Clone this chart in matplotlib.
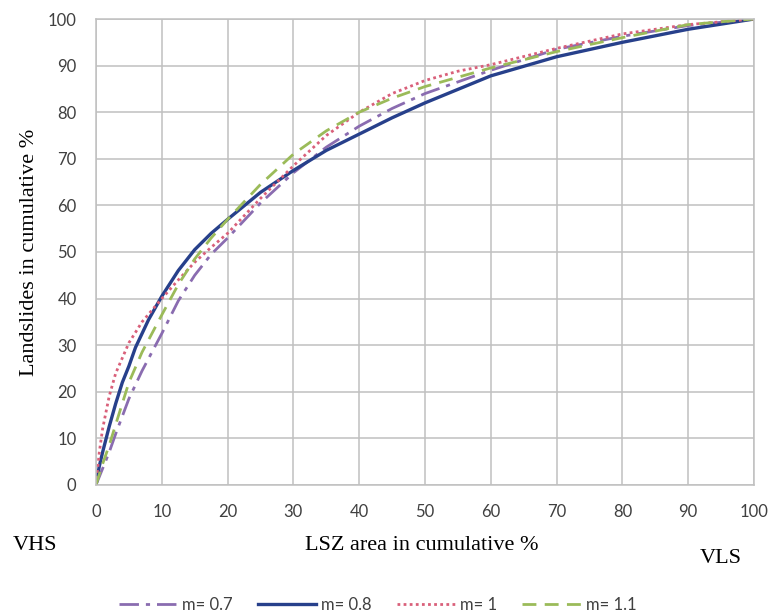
import matplotlib
matplotlib.use("Agg")
import matplotlib.pyplot as plt

# values (LSZ area % -> landslides %)
x07 = [0, 1, 2, 3, 5, 7, 10, 12.5, 15, 17.5, 20, 25, 30, 35, 40, 45, 50, 60, 70, 80, 90, 100]
y07 = [0, 3.5, 7, 11, 18.5, 24.5, 32.5, 39.5, 45, 49.5, 53, 60.5, 67, 72.5, 77, 80.8, 84, 89, 93.5, 96.3, 98.6, 100]

x08 = [0, 0.5, 1, 2, 3, 4, 5, 6, 7, 8, 10, 12.5, 15, 17.5, 20, 25, 30, 35, 40, 45, 50, 60, 70, 80, 90, 100]
y08 = [0, 4, 7, 12.5, 17.5, 22, 25.5, 29.5, 32.5, 35.5, 40.5, 46, 50.5, 54, 57, 62.8, 67.5, 71.8, 75.3, 78.8, 82, 87.8, 91.9, 95, 97.8, 100]

x10 = [0, 0.5, 1, 2, 3, 5, 7, 10, 12.5, 15, 17.5, 20, 25, 30, 35, 40, 45, 50, 55, 60, 70, 80, 90, 100]
y10 = [0, 7, 12, 19, 24, 30.5, 35, 40, 44, 47.8, 51, 54, 61.5, 68.5, 75, 80, 84, 86.8, 88.8, 90.2, 93.7, 96.8, 98.8, 100]

x11 = [0, 1, 2, 3, 5, 7, 10, 12.5, 15, 17.5, 20, 25, 30, 35, 40, 45, 50, 60, 70, 80, 90, 100]
y11 = [0, 4.5, 8.5, 13, 22, 28.5, 36.5, 43, 48.5, 53, 57, 64.5, 71, 76, 80, 83, 85.5, 89.5, 93, 96, 98.8, 100]

ticks = list(range(0, 101, 10))

fig = plt.figure(figsize=(7.71, 6.15), dpi=100)
ax = fig.add_axes([0.1245, 0.2114, 0.8535, 0.7577])

ax.plot(x07, y07, color="#8a6cb0", lw=2, dashes=(7, 2.5, 1.5, 2.5), label="m= 0.7")
ax.plot(x08, y08, color="#27408b", lw=2.4, label="m= 0.8")
ax.plot(x10, y10, color="#d9607a", lw=2, linestyle=(0, (1, 1.2)), label="m= 1")
ax.plot(x11, y11, color="#9bbb59", lw=2, dashes=(5, 3), label="m= 1.1")

ax.set_xlim(0, 100)
ax.set_ylim(0, 100)
ax.set_xticks(ticks)
ax.set_yticks(ticks)
ax.grid(True, color="#c0c0c0", lw=1.1)
ax.set_axisbelow(True)
for s in ax.spines.values():
    s.set_color("#c0c0c0")
    s.set_linewidth(1.1)
ax.tick_params(length=0, labelsize=12, colors="#404040")
ax.tick_params(axis="y", pad=14)
ax.tick_params(axis="x", pad=14)
for lab in ax.get_xticklabels() + ax.get_yticklabels():
    lab.set_family("Lato")

ax.set_ylabel("Landslides in cumulative %", family="Liberation Serif", fontsize=16, labelpad=6)

fig.text(0.017, 0.1135, "VHS", family="Liberation Serif", fontsize=16, va="center")
fig.text(0.547, 0.1135, "LSZ area in cumulative %", family="Liberation Serif", fontsize=16,
         va="center", ha="center")
fig.text(0.908, 0.092, "VLS", family="Liberation Serif", fontsize=16, va="center")

leg = fig.legend(loc="center", bbox_to_anchor=(0.49, 0.016), ncol=4, frameon=False,
                 handlelength=3.5, columnspacing=1.5, handletextpad=0.3,
                 prop={"family": "Lato", "size": 12})
for t in leg.get_texts():
    t.set_color("#404040")

fig.savefig("out.png", dpi=100)
